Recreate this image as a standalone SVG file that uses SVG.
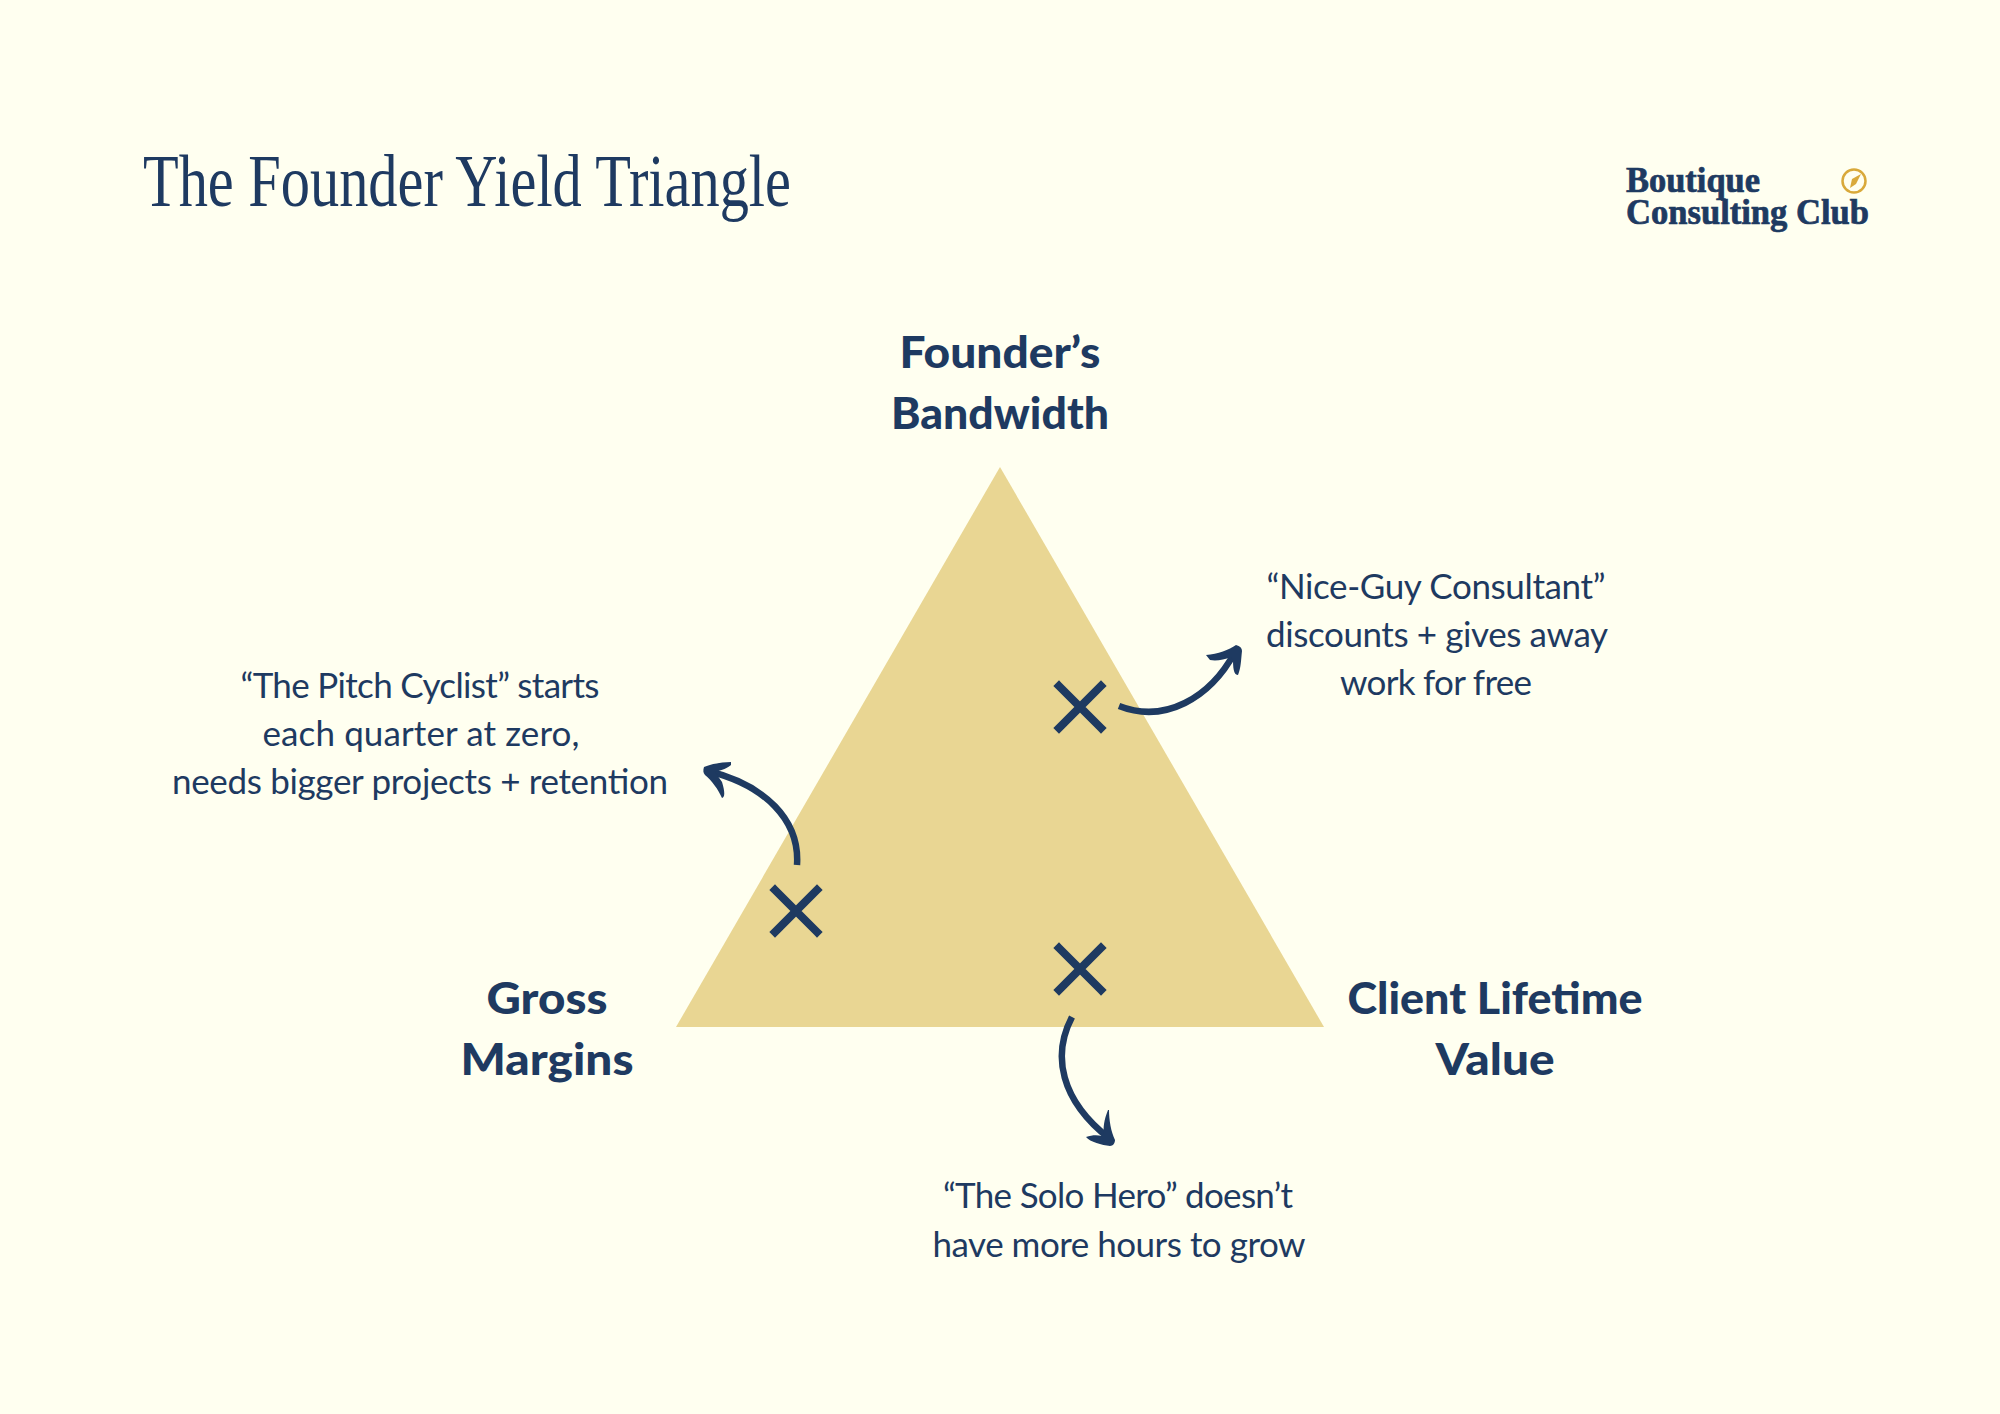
<svg xmlns="http://www.w3.org/2000/svg" width="2000" height="1414" viewBox="0 0 2000 1414">
<style>
text{fill:#1e3a61}
.t{font-family:"Liberation Serif",serif;font-size:74px}
.l{font-family:"Lato","Liberation Sans",sans-serif;font-weight:900;font-size:44px;text-anchor:middle}
.b{font-family:"Lato","Liberation Sans",sans-serif;font-weight:400;font-size:35px;text-anchor:middle}
.g{font-family:"Liberation Serif",serif;font-weight:700;font-size:35px;stroke:#1e3a61;stroke-width:.7}
.x{fill:none;stroke:#1e3a61;stroke-width:8;stroke-linecap:square}
.c{fill:none;stroke:#1e3a61;stroke-width:6.5;stroke-linecap:butt}
.h{fill:#1e3a61}
</style>
<rect width="2000" height="1414" fill="#fffff0"/>
<g id="title"><text class="t" x="143" y="206" textLength="648" lengthAdjust="spacingAndGlyphs">The Founder Yield Triangle</text></g>
<g id="logo">
<text class="g" x="1626" y="192" textLength="134" lengthAdjust="spacingAndGlyphs">Boutique</text>
<text class="g" x="1626" y="224" textLength="243" lengthAdjust="spacingAndGlyphs">Consulting Club</text>
<circle cx="1854" cy="181" r="11.5" fill="none" stroke="#d9a93a" stroke-width="2.5"/>
<path d="M1861 174L1856 184L1850 188L1852 179Z" fill="#d9a93a"/>
</g>
<g id="triangle"><path d="M1000 467L1324 1027H676Z" fill="#e9d693"/></g>
<g id="node-bandwidth"><text class="l" x="1000" y="368" textLength="201" lengthAdjust="spacingAndGlyphs">Founder’s</text><text class="l" x="1000" y="429" textLength="218" lengthAdjust="spacingAndGlyphs">Bandwidth</text></g>
<g id="node-margins"><text class="l" x="547" y="1014" textLength="121" lengthAdjust="spacingAndGlyphs">Gross</text><text class="l" x="547" y="1075" textLength="173" lengthAdjust="spacingAndGlyphs">Margins</text></g>
<g id="node-clv"><text class="l" x="1495" y="1014" textLength="295" lengthAdjust="spacingAndGlyphs">Client Lifetime</text><text class="l" x="1495" y="1075" textLength="119" lengthAdjust="spacingAndGlyphs">Value</text></g>
<g id="mark-nice"><path class="x" d="M1059 686L1101 728M1101 686L1059 728"/></g>
<g id="mark-pitch"><path class="x" d="M775 890L817 932M817 890L775 932"/></g>
<g id="mark-solo"><path class="x" d="M1059 948L1101 990M1101 948L1059 990"/></g>
<g id="note-nice"><text class="b" x="1436" y="599" textLength="339">“Nice-Guy Consultant”</text><text class="b" x="1437" y="647" textLength="342">discounts + gives away</text><text class="b" x="1436" y="695" textLength="192">work for free</text></g>
<g id="note-pitch"><text class="b" x="420" y="698" textLength="359">“The Pitch Cyclist” starts</text><text class="b" x="421" y="746" textLength="317">each quarter at zero,</text><text class="b" x="420" y="794" textLength="496">needs bigger projects + retention</text></g>
<g id="note-solo"><text class="b" x="1118" y="1208" textLength="350">“The Solo Hero” doesn’t</text><text class="b" x="1119" y="1257" textLength="373">have more hours to grow</text></g>
<g id="connectors">
<path class="c" d="M1119 706C1165 724 1210 698 1235 652"/>
<path class="h" d="M1206 655C1218 654 1229 650 1236 645C1240 646 1242 648 1242 651C1241 660 1241 668 1238 675C1235 675 1233 672 1233 660L1231 657C1224 660 1216 661 1210 660Z"/>
<path class="c" d="M797 865C800 820 765 785 708 771"/>
<path class="h" d="M731 762C722 762 711 764 704 767C703 770 703 773 705 775C712 781 718 789 722 798C725 797 725 792 722 782L715 772C722 770 728 768 731 765Z"/>
<path class="c" d="M1072 1017C1052 1055 1060 1100 1110 1139"/>
<path class="h" d="M1108 1110C1104 1120 1103 1128 1104 1133L1102 1136C1097 1135 1092 1135 1086 1137C1090 1142 1102 1145 1110 1146C1113 1146 1115 1143 1115 1140C1111 1132 1109 1120 1109 1110Z"/>
</g>
</svg>
